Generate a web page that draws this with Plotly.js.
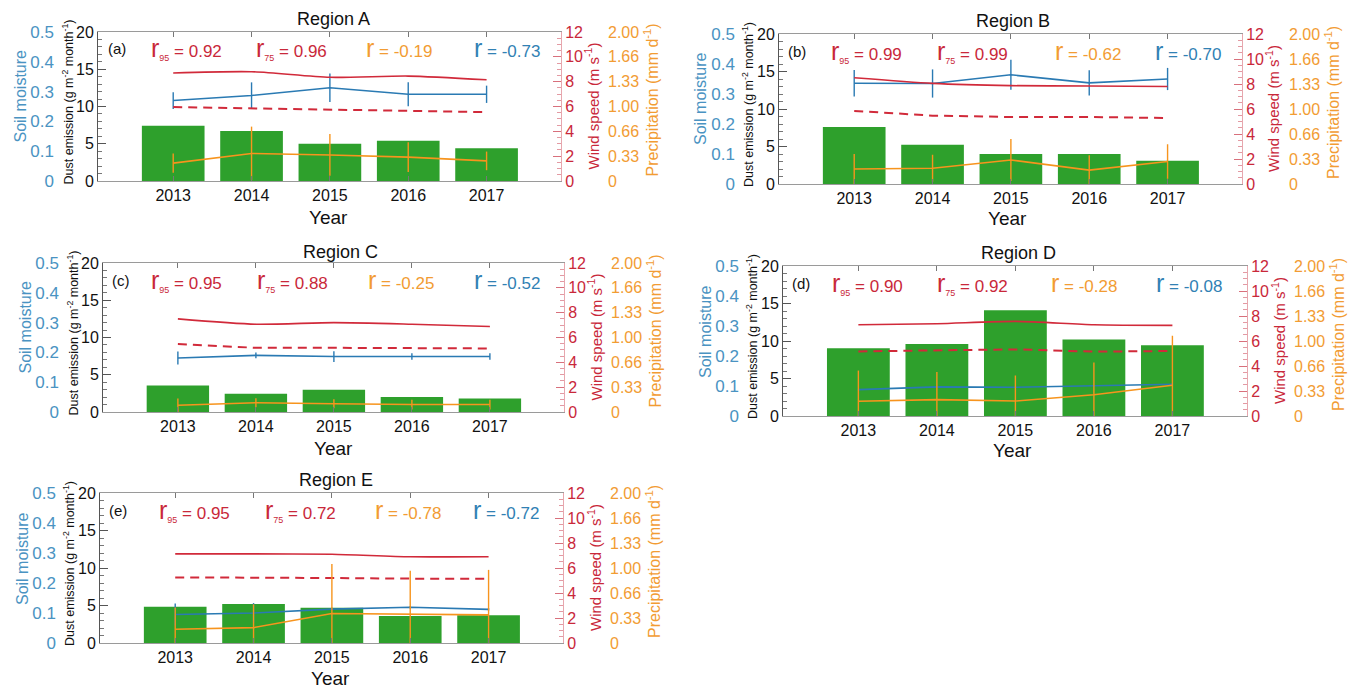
<!DOCTYPE html>
<html><head><meta charset="utf-8">
<script src="https://cdn.plot.ly/plotly-3.0.1.min.js"></script>
<style>html,body{margin:0;padding:0;background:#fff}#chart{width:1355px;height:691px}</style>
</head><body><div id="chart"></div>
<script>
// ---------------- data ----------------
const years = [2013, 2014, 2015, 2016, 2017];
const regionNames = ['Region A', 'Region B', 'Region C', 'Region D', 'Region E'];
const panelLetters = ['(a)', '(b)', '(c)', '(d)', '(e)'];

// dust emission (g m-2 month-1)
const dustA = [7.4, 6.7, 5.0, 5.4, 4.4];
const dustB = [7.6, 5.25, 4.0, 4.0, 3.1];
const dustC = [3.55, 2.45, 3.0, 2.0, 1.8];
const dustD = [9.05, 9.6, 14.1, 10.2, 9.45];
const dustE = [4.85, 5.2, 4.7, 3.6, 3.7];

// wind speed 95th percentile (m s-1)
const wind95A = [8.7, 8.8, 8.35, 8.45, 8.15];
const wind95B = [8.5, 8.05, 7.87, 7.84, 7.8];
const wind95C = [7.5, 7.07, 7.2, 7.07, 6.88];
const wind95D = [7.3, 7.38, 7.57, 7.3, 7.25];
const wind95E = [7.13, 7.13, 7.1, 6.9, 6.9];

// wind speed 75th percentile (m s-1)
const wind75A = [5.95, 5.85, 5.75, 5.65, 5.55];
const wind75B = [5.85, 5.47, 5.36, 5.36, 5.28];
const wind75C = [5.47, 5.17, 5.17, 5.12, 5.12];
const wind75D = [5.17, 5.25, 5.33, 5.15, 5.2];
const wind75E = [5.25, 5.25, 5.2, 5.15, 5.15];

// soil moisture and its spread
const soilA = [0.27, 0.287, 0.313, 0.291, 0.291];
const soilB = [0.336, 0.335, 0.364, 0.337, 0.35];
const soilC = [0.181, 0.19, 0.186, 0.186, 0.186];
const soilD = [0.088, 0.097, 0.096, 0.1, 0.106];
const soilE = [0.095, 0.1, 0.113, 0.119, 0.112];
const soilErrA = [0.028, 0.044, 0.048, 0.04, 0.029];
const soilErrB = [0.044, 0.047, 0.05, 0.042, 0.037];
const soilErrC = [0.022, 0.01, 0.018, 0.011, 0.011];
const soilErrD = [0.003, 0.003, 0.003, 0.003, 0.003];
const soilErrE = [0.037, 0.033, 0.005, 0.004, 0.004];

// precipitation (mm d-1) and its spread
const precipA = [0.24, 0.37, 0.35, 0.32, 0.27];
const precipB = [0.2, 0.21, 0.32, 0.185, 0.3];
const precipC = [0.09, 0.124, 0.11, 0.1, 0.1];
const precipD = [0.196, 0.218, 0.2, 0.284, 0.41];
const precipE = [0.183, 0.205, 0.393, 0.384, 0.375];
const precipErrA = [0.13, 0.36, 0.28, 0.2, 0.125];
const precipErrB = [0.2, 0.18, 0.28, 0.2, 0.23];
const precipErrC = [0.09, 0.06, 0.06, 0.065, 0.065];
const precipErrD = [0.41, 0.37, 0.34, 0.43, 0.66];
const precipErrE = [0.29, 0.31, 0.66, 0.58, 0.6];

// correlation coefficients
const r95 = ['0.92', '0.99', '0.95', '0.90', '0.95'];
const r75 = ['0.96', '0.99', '0.88', '0.92', '0.72'];
const rPrecip = ['-0.19', '-0.62', '-0.25', '-0.28', '-0.78'];
const rSoil = ['-0.73', '-0.70', '-0.52', '-0.08', '-0.72'];

// tick labels
const dustTicks = [0, 5, 10, 15, 20];
const soilTicks = [0, 0.1, 0.2, 0.3, 0.4, 0.5];
const soilTickText = ['0', '0.1', '0.2', '0.3', '0.4', '0.5'];
const windTicks = [0, 2, 4, 6, 8, 10, 12];
const precipTicks = [0, 1/3, 2/3, 1, 4/3, 5/3, 2];
const precipTickText = ['0', '0.33', '0.66', '1.00', '1.33', '1.66', '2.00'];

// tables built from the arrays above
const dust = [dustA, dustB, dustC, dustD, dustE];
const wind95 = [wind95A, wind95B, wind95C, wind95D, wind95E];
const wind75 = [wind75A, wind75B, wind75C, wind75D, wind75E];
const soil = [soilA, soilB, soilC, soilD, soilE];
const soilErr = [soilErrA, soilErrB, soilErrC, soilErrD, soilErrE];
const precip = [precipA, precipB, precipC, precipD, precipE];
const precipErr = [precipErrA, precipErrB, precipErrC, precipErrD, precipErrE];

// ---------------- layout (pixel geometry) ----------------
const W = 1355, H = 691;
const px = x => x / W, py = y => 1 - y / H;
const FONT = '"Liberation Sans", Arial, Helvetica, sans-serif';
const GREEN = '#2ea02c', RED = '#d12a3a', REDTXT = '#c9283a', BLUE = '#2a7ab3',
      BLUETXT = '#3181b4', SOILC = '#4a93c2', ORANGE = '#f7941d', ORANGETXT = '#f29c33';

const frames = [
  {l: 98,  r: 561,  t: 32,  b: 181, tx: 333,  ty: 19,  yx: 328,  yy: 217, ry: 48,  rx: [186, 291, 399, 507],   lx: 117},
  {l: 779, r: 1242, t: 34,  b: 184, tx: 1013, ty: 21,  yx: 1007, yy: 218, ry: 51,  rx: [866, 972, 1088, 1188], lx: 797},
  {l: 103, r: 564,  t: 263, b: 412, tx: 340,  ty: 252, yx: 333,  yy: 448, ry: 280, rx: [186, 292, 401, 507],   lx: 121},
  {l: 783, r: 1247, t: 266, b: 416, tx: 1018, ty: 253, yx: 1012, yy: 450, ry: 283, rx: [867, 972, 1084, 1189], lx: 801},
  {l: 100, r: 563,  t: 493, b: 643, tx: 336,  ty: 480, yx: 330,  yy: 678, ry: 510, rx: [194, 300, 408, 506],   lx: 118}
];

const layout = {
  width: W, height: H, margin: {l: 0, r: 0, t: 0, b: 0},
  showlegend: false, paper_bgcolor: '#ffffff', plot_bgcolor: 'rgba(0,0,0,0)',
  font: {family: FONT, size: 16, color: '#111'},
  annotations: []
};
const traces = [];
const yid = n => (n === 1 ? 'y' : 'y' + n);
const ykey = n => (n === 1 ? 'yaxis' : 'yaxis' + n);

frames.forEach((f, i) => {
  const xn = i + 1;
  const xid = xn === 1 ? 'x' : 'x' + xn;
  const xkey = xn === 1 ? 'xaxis' : 'xaxis' + xn;
  const yD = 4 * i + 1, yS = 4 * i + 2, yW = 4 * i + 3, yP = 4 * i + 4;
  const dom = [py(f.b), py(f.t)];

  layout[xkey] = {
    domain: [px(f.l), px(f.r)], anchor: yid(yD), range: [2012.04, 2017.95],
    tickvals: years, ticktext: years.map(String),
    ticks: 'inside', ticklen: 5, tickcolor: '#777', tickwidth: 1,
    showline: true, linecolor: '#9a9a9a', linewidth: 1, mirror: 'ticks',
    showgrid: false, zeroline: false, tickfont: {size: 16, color: '#111'}
  };
  layout[ykey(yD)] = {
    domain: dom, anchor: xid, range: [0, 20], tickvals: dustTicks,
    ticks: 'inside', ticklen: 8, tickcolor: '#555', tickwidth: 1,
    minor: {ticks: 'inside', dtick: 1, tick0: 0, ticklen: 4, tickcolor: '#777'},
    showline: true, linecolor: '#555', linewidth: 1,
    showgrid: false, zeroline: false, tickfont: {size: 16, color: '#111'}
  };
  layout[ykey(yS)] = {
    overlaying: yid(yD), anchor: 'free', position: px(f.l - 44), side: 'left',
    range: [0, 0.5], tickvals: soilTicks, ticktext: soilTickText, ticks: '',
    showline: false, showgrid: false, zeroline: false, tickfont: {size: 17, color: SOILC}
  };
  layout[ykey(yW)] = {
    overlaying: yid(yD), anchor: xid, side: 'right', range: [0, 12], tickvals: windTicks,
    ticks: 'inside', ticklen: 8, tickcolor: '#d8707c', tickwidth: 1,
    minor: {ticks: 'inside', dtick: 0.5, tick0: 0, ticklen: 4, tickcolor: '#e39aa3'},
    showline: true, linecolor: '#e7a7ae', linewidth: 1,
    showgrid: false, zeroline: false, tickfont: {size: 16, color: REDTXT}
  };
  layout[ykey(yP)] = {
    overlaying: yid(yD), anchor: 'free', position: px(f.r + 46), side: 'right',
    range: [0, 2], tickvals: precipTicks, ticktext: precipTickText, ticks: '',
    showline: false, showgrid: false, zeroline: false, tickfont: {size: 16, color: ORANGETXT}
  };

  traces.push({type: 'bar', x: years, y: dust[i], xaxis: xid, yaxis: yid(yD),
    width: 0.8, marker: {color: GREEN, line: {width: 0}}, hoverinfo: 'x+y'});
  traces.push({type: 'scatter', mode: 'lines', x: years, y: wind95[i], xaxis: xid, yaxis: yid(yW),
    line: {color: RED, width: 1.6, shape: 'spline', smoothing: 0.7}});
  traces.push({type: 'scatter', mode: 'lines', x: years, y: wind75[i], xaxis: xid, yaxis: yid(yW),
    line: {color: RED, width: 2, dash: '9px,6px'}});
  traces.push({type: 'scatter', mode: 'lines', x: years, y: soil[i], xaxis: xid, yaxis: yid(yS),
    line: {color: BLUE, width: 1.6},
    error_y: {type: 'data', array: soilErr[i], visible: true, color: BLUE, thickness: 1.4, width: 0}});
  traces.push({type: 'scatter', mode: 'lines', x: years, y: precip[i], xaxis: xid, yaxis: yid(yP),
    line: {color: ORANGE, width: 1.6},
    error_y: {type: 'data', array: precipErr[i], visible: true, color: ORANGE, thickness: 1.4, width: 0}});

  const mid = (f.t + f.b) / 2;
  const A = layout.annotations;
  const base = {xref: 'paper', yref: 'paper', showarrow: false, xanchor: 'center', yanchor: 'middle'};
  A.push(Object.assign({}, base, {x: px(f.tx), y: py(f.ty), text: regionNames[i], font: {size: 18, color: '#111'}}));
  A.push(Object.assign({}, base, {x: px(f.yx), y: py(f.yy), text: 'Year', font: {size: 19, color: '#111'}}));
  A.push(Object.assign({}, base, {x: px(f.lx), y: py(f.ry), text: panelLetters[i], font: {size: 15, color: '#111'}}));
  A.push(Object.assign({}, base, {x: px(f.rx[0]), y: py(f.ry),
    text: '<span style="font-size:25px">r</span><sub><span style="font-size:9px">95</span></sub> = ' + r95[i],
    font: {size: 17, color: REDTXT}}));
  A.push(Object.assign({}, base, {x: px(f.rx[1]), y: py(f.ry),
    text: '<span style="font-size:25px">r</span><sub><span style="font-size:9px">75</span></sub> = ' + r75[i],
    font: {size: 17, color: REDTXT}}));
  A.push(Object.assign({}, base, {x: px(f.rx[2]), y: py(f.ry),
    text: '<span style="font-size:25px">r</span> = ' + rPrecip[i], font: {size: 17, color: ORANGETXT}}));
  A.push(Object.assign({}, base, {x: px(f.rx[3]), y: py(f.ry),
    text: '<span style="font-size:25px">r</span> = ' + rSoil[i], font: {size: 17, color: BLUETXT}}));
  A.push(Object.assign({}, base, {x: px(f.l - 78), y: py(mid - 10), textangle: -90,
    text: 'Soil moisture', font: {size: 16, color: SOILC}}));
  A.push(Object.assign({}, base, {x: px(f.l - 31), y: py(mid - 4), textangle: -90,
    text: 'Dust emission (g m<sup>-2</sup> month<sup>-1</sup>)', font: {size: 12.5, color: '#111'}}));
  A.push(Object.assign({}, base, {x: px(f.r + 31), y: py(mid), textangle: -90,
    text: 'Wind speed (m s<sup>-1</sup>)', font: {size: 15, color: REDTXT}}));
  A.push(Object.assign({}, base, {x: px(f.r + 90), y: py(mid - 6), textangle: -90,
    text: 'Precipitation (mm d<sup>-1</sup>)', font: {size: 16, color: ORANGETXT}}));
});

Plotly.newPlot('chart', traces, layout, {displayModeBar: false, responsive: false});
</script>
</body></html>
